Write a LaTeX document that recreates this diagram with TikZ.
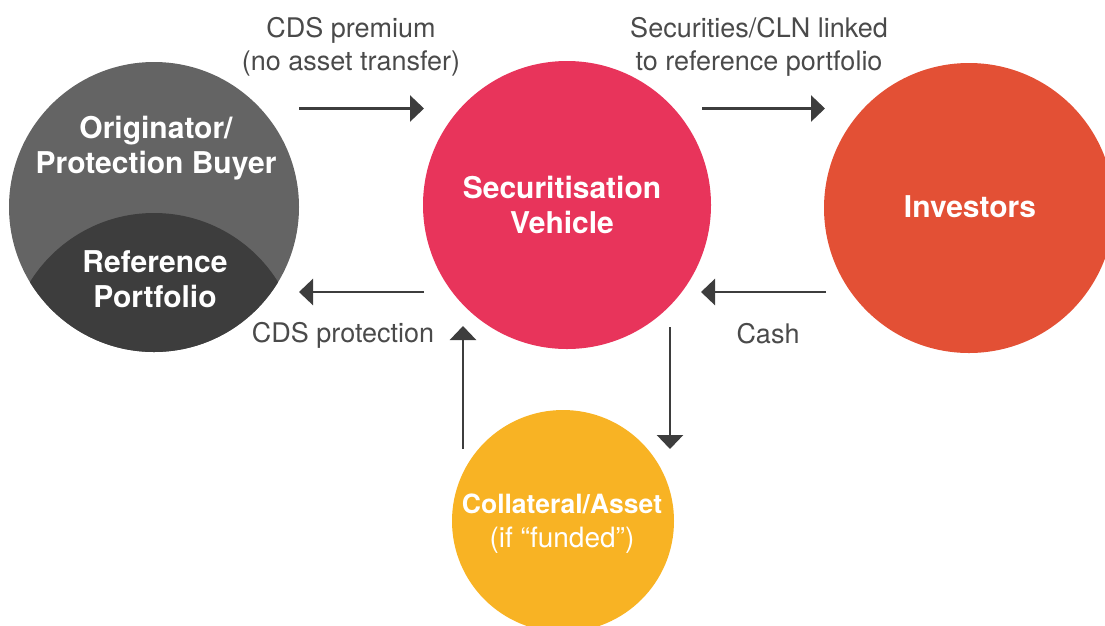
\documentclass[tikz,border=0pt]{standalone}
\usepackage{fontspec}
\setmainfont{TeX Gyre Heros}
\usetikzlibrary{arrows.meta}
\definecolor{cgray}{HTML}{646464}
\definecolor{cdark}{HTML}{3D3D3D}
\definecolor{cpink}{HTML}{E8345B}
\definecolor{corange}{HTML}{E35035}
\definecolor{cyellow}{HTML}{F8B324}
\definecolor{carrow}{HTML}{3D3D3D}
\definecolor{ctext}{HTML}{4A4A4A}
\tikzset{
  disc/.style={circle, inner sep=0pt, minimum size=#1, draw=none},
  inlabel/.style={text=white, align=center, anchor=base, font=\fontsize{30}{35}\selectfont\bfseries},
  flowlabel/.style={text=ctext, align=center, anchor=base, font=\fontsize{27}{33}\selectfont},
  flow/.style={draw=carrow, line width=2.7pt, -{Triangle[length=14pt, width=26pt]}}
}
\begin{document}
\begin{tikzpicture}[x=1pt, y=-1pt]
\useasboundingbox (0,0) rectangle (1105,625);
\clip (0,0) rectangle (1105,625);
% circles
\node[disc=290pt, fill=cgray] (orig) at (154,207) {};
\begin{scope}
  \clip (154,207) circle (145);
  \fill[cdark] (154,359) circle (146);
\end{scope}
\node[disc=288pt, fill=cpink] (spv) at (567,205) {};
\node[disc=290pt, fill=corange] (inv) at (969,208) {};
\node[disc=222pt, fill=cyellow] (coll) at (563,521) {};
% circle texts
\node[inlabel] (origtxt) at (156,173) {Originator/\\Protection Buyer};
\node[inlabel] (reftxt) at (155,307) {Reference\\Portfolio};
\node[inlabel] (spvtxt) at (562,233) {Securitisation\\Vehicle};
\node[inlabel] (invtxt) at (970,217) {Investors};
\node[text=white, align=center, anchor=base, font=\fontsize{28}{34}\selectfont] (colltxt) at (562,547) {{\fontsize{26.5}{34}\selectfont\bfseries Collateral/Asset}\\(if “funded”)};
% flow labels
\node[flowlabel] (l1) at (351,70) {CDS premium\\(no asset transfer)};
\node[flowlabel] (l2) at (759,70) {Securities/CLN linked\\to reference portfolio};
\node[flowlabel] (l3) at (343,342) {CDS protection};
\node[flowlabel] (l4) at (768,343) {Cash};
% arrow end points
\coordinate (a1s) at (299,108.5);
\coordinate (a1e) at (424,108.5);
\coordinate (a2s) at (702,108.5);
\coordinate (a2e) at (825,108.5);
\coordinate (a3s) at (424,292);
\coordinate (a3e) at (299,292);
\coordinate (a4s) at (826,292);
\coordinate (a4e) at (701,292);
\coordinate (a5s) at (463,449);
\coordinate (a5e) at (463,326);
\coordinate (a6s) at (670,327);
\coordinate (a6e) at (670,449);
\draw[flow] (a1s) -- (a1e);
\draw[flow] (a2s) -- (a2e);
\draw[flow] (a3s) -- (a3e);
\draw[flow] (a4s) -- (a4e);
\draw[flow] (a5s) -- (a5e);
\draw[flow] (a6s) -- (a6e);
\end{tikzpicture}
\end{document}
